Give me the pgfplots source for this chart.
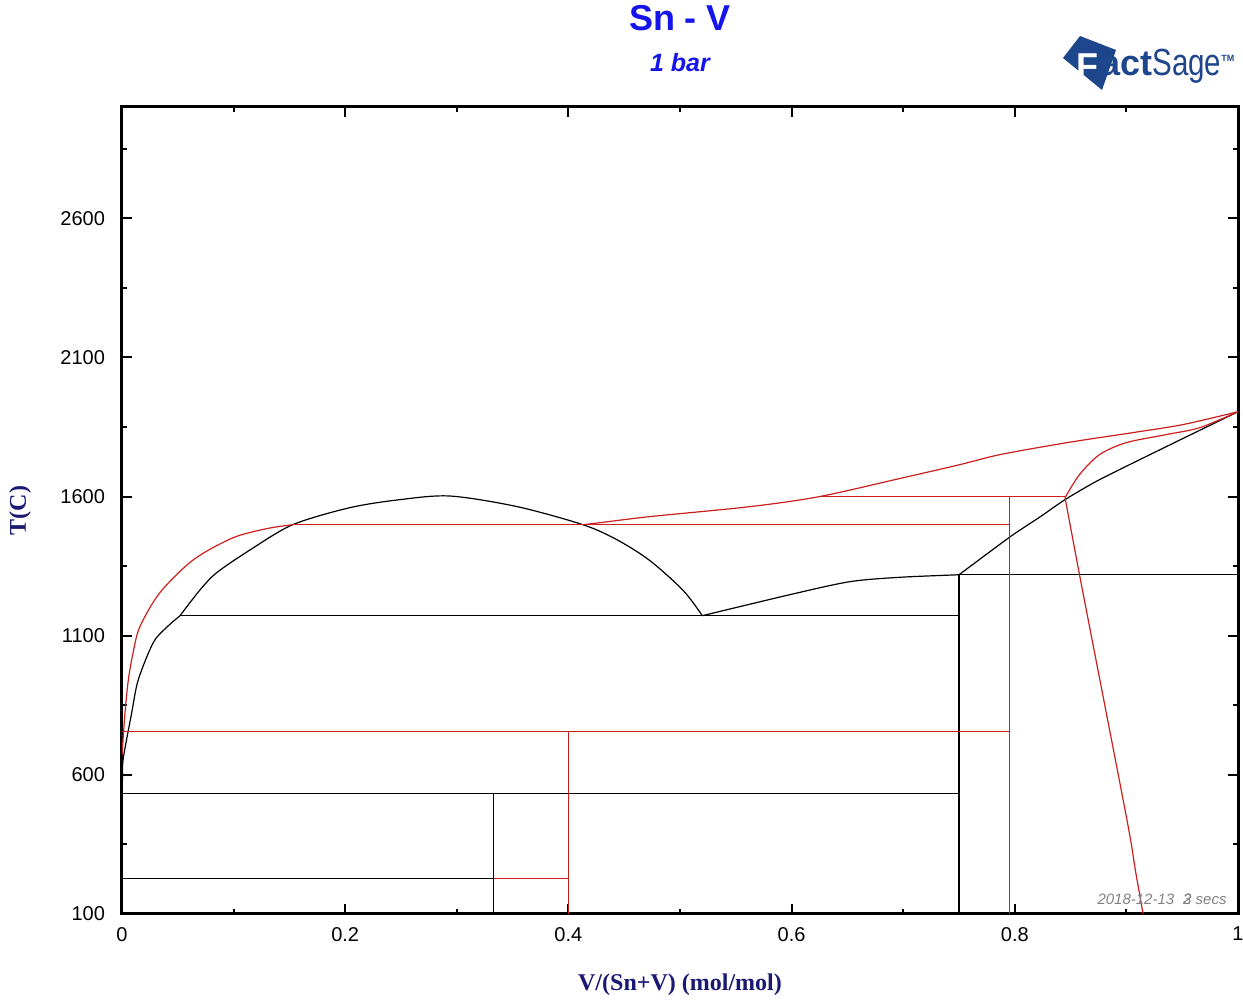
\documentclass[border=0pt]{standalone}
\usepackage{fontspec}
\setmainfont{Liberation Sans}
\newfontfamily\serifb{Liberation Serif}
\usepackage{pgfplots}
\pgfplotsset{compat=1.18}
\definecolor{fsred}{RGB}{205,30,30}
\definecolor{fsblue}{RGB}{20,20,235}
\definecolor{fsnavy}{RGB}{25,25,115}
\definecolor{fslogo}{RGB}{30,70,140}
\definecolor{fsgray}{RGB}{130,130,130}

\begin{document}
\begin{tikzpicture}
\path[use as bounding box] (-61pt,-43.5pt) rectangle (560.5pt,457pt);
\begin{axis}[
    at={(0,0)}, anchor=south west,
    scale only axis, width=558pt, height=403.5pt,
    xmin=0, xmax=1, ymin=100, ymax=3000,
    xtick={0,0.2,0.4,0.6,0.8,1},
    xticklabels={0,0.2,0.4,0.6,0.8,1},
    minor xtick={0.1,0.3,0.5,0.7,0.9},
    ytick={100,600,1100,1600,2100,2600},
    yticklabels={100,600,1100,1600,2100,2600},
    minor ytick={350,850,1350,1850,2350,2850},
    tick align=inside, tick pos=both,
    major tick length=5pt, minor tick length=2.5pt,
    every tick/.style={black, line width=1pt},
    axis line style={line width=1.5pt},
    ticklabel style={font=\fontsize{10}{12}\selectfont},
    /pgf/number format/assume math mode=true,
    /pgf/number format/1000 sep={},
    yticklabel style={xshift=-5pt},
    xticklabel style={yshift=-3pt},
    xlabel={V/(Sn+V) (mol/mol)},
    xlabel style={at={(axis description cs:0.5,-0.088)}, anchor=center,
        font=\serifb\bfseries\fontsize{12}{14}\selectfont, text=fsnavy},
    ylabel={T(C)},
    ylabel style={at={(axis description cs:-0.0914,0.5)}, anchor=center,
        font=\serifb\bfseries\fontsize{12}{14}\selectfont, text=fsnavy},
]
% black phase boundaries
\addplot[black, line width=0.6pt, smooth, tension=0.5] coordinates {
 (0,510) (0.0005,600) (0.0012,661) (0.0087,823) (0.0146,942) (0.028,1075)
 (0.04,1130) (0.052,1172)};
\addplot[black, line width=0.6pt, smooth, tension=0.5] coordinates {
 (0.052,1172) (0.070,1265) (0.085,1327) (0.115,1409) (0.153,1499)
 (0.204,1560) (0.249,1589) (0.294,1602) (0.354,1564) (0.413,1499) (0.4435,1445)
 (0.473,1370) (0.503,1262) (0.520,1172)};
\addplot[black, line width=0.6pt, smooth, tension=0.5] coordinates {
 (0.520,1172) (0.599,1248) (0.652,1294) (0.697,1310) (0.75,1319)};
\addplot[black, line width=0.6pt, smooth, tension=0.4] coordinates {
 (0.75,1319) (0.796,1456) (0.823,1528) (0.845,1589) (0.876,1661) (0.936,1780) (1,1905)};
\addplot[black, line width=0.6pt] coordinates {(0.052,1172) (0.75,1172)};
\addplot[black, line width=0.6pt] coordinates {(0.75,1319) (1,1319)};
\addplot[black, line width=0.6pt] coordinates {(0.75,1319) (0.75,100)};
\addplot[black, line width=0.6pt] coordinates {(0,532) (0.75,532)};
\addplot[black, line width=0.6pt] coordinates {(0,229) (0.333,229)};
\addplot[black, line width=0.6pt] coordinates {(0.333,532) (0.333,100)};
% red phase boundaries
\addplot[fsred, line width=0.6pt, smooth, tension=0.5] coordinates {
 (0,672) (0.0027,823) (0.0057,942) (0.010,1040) (0.016,1132) (0.034,1255)
 (0.064,1373) (0.0995,1452) (0.130,1485) (0.153,1499)};
\addplot[fsred, line width=0.6pt, smooth, tension=0.5] coordinates {
 (0.413,1499) (0.428,1506) (0.473,1528) (0.563,1564) (0.625,1600) (0.697,1665)
 (0.751,1715) (0.787,1751) (0.847,1794) (0.906,1830) (0.951,1859) (1,1905)};
\addplot[fsred, line width=0.6pt, smooth, tension=0.5] coordinates {
 (0.845,1596) (0.858,1679) (0.876,1751) (0.900,1794) (0.936,1823) (0.966,1848) (1,1905)};
\addplot[fsred, line width=0.6pt, smooth, tension=0.5] coordinates {
 (0.845,1596) (0.858,1319) (0.864,1194) (0.9005,438) (0.908,258) (0.915,100)};
\addplot[fsred, line width=0.6pt] coordinates {(0.153,1500) (0.795,1500)};
\addplot[fsred, line width=0.6pt] coordinates {(0.625,1600) (0.845,1600)};
\addplot[fsred, line width=0.6pt] coordinates {(0.795,1600) (0.795,100)};
\addplot[fsred, line width=0.6pt] coordinates {(0,755) (0.795,755)};
\addplot[fsred, line width=0.6pt] coordinates {(0.4,755) (0.4,100)};
\addplot[fsred, line width=0.6pt] coordinates {(0.333,229) (0.4,229)};
\end{axis}
% titles
\node[font=\bfseries\fontsize{18}{20}\selectfont, text=fsblue] at (279pt,448pt) {Sn - V};
\node[font=\bfseries\itshape\fontsize{12.5}{14}\selectfont, text=fsblue] at (279pt,425.5pt) {1 bar};
% timestamp
\node[anchor=east, font=\itshape\fontsize{7.5}{9}\selectfont, text=fsgray, inner sep=0pt]
  at (552.5pt,7.5pt) {2018-12-13\hspace{0.6em}\rlap{2}3 secs};
% logo
\fill[fslogo] (470.5pt,428pt) -- (479pt,439pt) -- (497pt,432pt) -- (490pt,412pt) -- cycle;
\node[anchor=west, inner sep=0pt, font=\bfseries\fontsize{18}{20}\selectfont, text=white]
  at (477pt,424pt) {F};
\node[anchor=west, inner sep=0pt, font=\bfseries\fontsize{18}{20}\selectfont, text=fslogo]
  at (489pt,424pt) {act\scalebox{0.82}[1.05]{\mdseries Sage}\raisebox{7pt}{\fontsize{4.5}{5}\selectfont TM}};
\end{tikzpicture}
\end{document}
